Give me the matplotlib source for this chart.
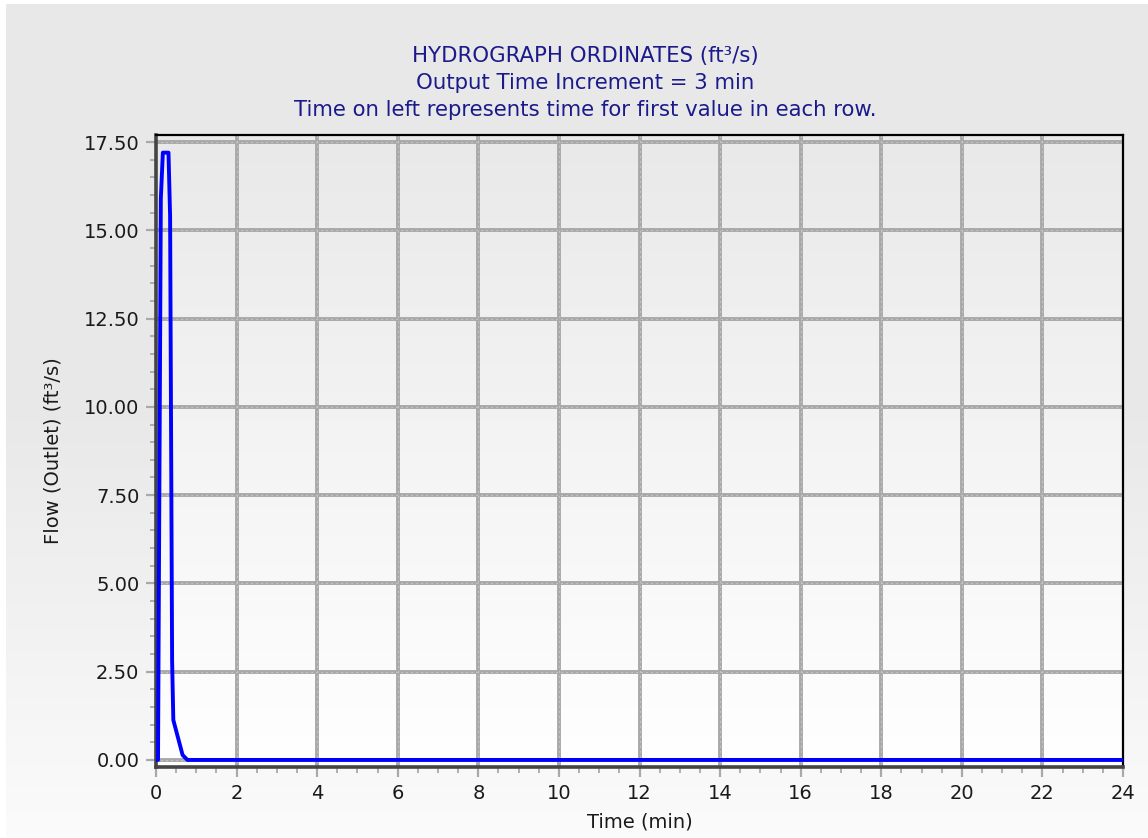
import numpy as np
import matplotlib.pyplot as plt
from matplotlib.colors import LinearSegmentedColormap
from matplotlib.ticker import MultipleLocator, FormatStrFormatter

# hydrograph ordinates
time_min = [0, 0.05, 0.12, 0.17, 0.31, 0.35, 0.40, 0.43, 0.66, 0.78, 24]
flow_cfs = [0, 0, 15.9, 17.2, 17.2, 15.4, 2.8, 1.13, 0.14, 0, 0]

title_lines = ["HYDROGRAPH ORDINATES (ft³/s)",
               "Output Time Increment = 3 min",
               "Time on left represents time for first value in each row."]

plt.rcParams["lines.scale_dashes"] = False

W, H = 1148, 838
fig = plt.figure(figsize=(W / 100, H / 100), dpi=100)
fig.patch.set_facecolor("white")

# figure background gradient
bg = fig.add_axes([6 / W, 0, 1 - 6 / W, 1 - 4 / H], zorder=-10)
grad = np.linspace(0, 1, 256).reshape(-1, 1)
bg.imshow(grad, aspect="auto", extent=[0, 1, 0, 1], origin="upper",
          cmap=LinearSegmentedColormap.from_list("g", ["#e8e8e8", "#e9e9e9", "#fbfbfb"]))
bg.axis("off")

x0, x1 = 156, 1123
y0, y1 = 135, 767
ax = fig.add_axes([x0 / W, 1 - y1 / H, (x1 - x0) / W, (y1 - y0) / H])
ax.set_facecolor("none")
ax.imshow(grad, aspect="auto", extent=[0, 24, -0.2, 17.7], origin="upper", zorder=0,
          cmap=LinearSegmentedColormap.from_list("a", ["#e9e9e9", "#ffffff"]))

# grid: solid grey band with light specks down the middle
for v in np.arange(2, 24, 2):
    ax.axvline(v, color="#a9a9a9", lw=2.8, zorder=1)
    ax.axvline(v, color="#d9d9d9", lw=0.7, ls=(0, (0.8, 2.8)), zorder=1.1)
for v in np.arange(0, 17.51, 2.5):
    ax.axhline(v, color="#a9a9a9", lw=2.8, zorder=1)
    ax.axhline(v, color="#d9d9d9", lw=0.7, ls=(0, (0.8, 2.8)), zorder=1.1)

ax.plot(time_min, flow_cfs, color="#0000ff", lw=2.8, zorder=5)

ax.set_xlim(0, 24)
ax.set_ylim(-0.2, 17.7)
ax.xaxis.set_major_locator(MultipleLocator(2))
ax.xaxis.set_minor_locator(MultipleLocator(0.5))
ax.yaxis.set_major_locator(MultipleLocator(2.5))
ax.yaxis.set_minor_locator(MultipleLocator(0.5))
ax.yaxis.set_major_formatter(FormatStrFormatter("%.2f"))
ax.tick_params(which="major", length=7, width=1.6, color="#a9a9a9", labelsize=14,
               labelcolor="#1a1a1a", pad=5)
ax.tick_params(which="minor", length=4, width=1.3, color="#a9a9a9")

for s in ["left", "bottom"]:
    ax.spines[s].set_color("#454545")
    ax.spines[s].set_linewidth(2.6)
for s in ["top", "right"]:
    ax.spines[s].set_color("black")
    ax.spines[s].set_linewidth(1.6)

ax.set_xlabel("Time (min)", fontsize=14, labelpad=7, color="#1a1a1a")
ax.set_ylabel("Flow (Outlet) (ft³/s)", fontsize=14, labelpad=15, color="#1a1a1a")

for i, line in enumerate(title_lines):
    fig.text(585 / W, 1 - (62 + 27 * i) / H, line, ha="center", va="baseline",
             color="#1a1a8c", fontsize=15.3)

fig.savefig("out.png", dpi=100)
